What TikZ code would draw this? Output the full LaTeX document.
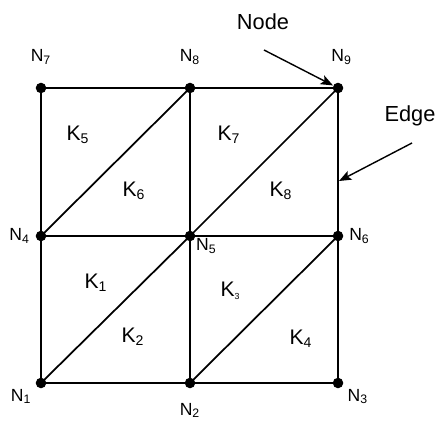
\documentclass[tikz,border=0pt]{standalone}
\usepackage{fontspec}
\setmainfont{Liberation Sans}
\usetikzlibrary{arrows.meta,positioning}

\tikzset{
  mesh/.style={line width=1pt,black},
  dot/.style={circle,fill=black,inner sep=0pt,minimum size=6pt},
  nlabel/.style={inner sep=1pt,font=\fontsize{10}{12}\selectfont},
  klabel/.style={inner sep=1pt,font=\fontsize{12}{14}\selectfont},
  callout/.style={inner sep=1pt,font=\fontsize{12.4}{14}\selectfont},
  pointer/.style={line width=0.8pt,-{Stealth[length=7pt,width=5.5pt,inset=1.5pt]}}
}

\begin{document}
\begin{tikzpicture}[x=0.02cm,y=-0.02cm]
  \useasboundingbox (0,0) rectangle (435,421);

  % grid points
  \node[dot] (n1) at (41,383) {};
  \node[dot] (n2) at (190,383) {};
  \node[dot] (n3) at (338,383) {};
  \node[dot] (n4) at (41,236) {};
  \node[dot] (n5) at (190,236) {};
  \node[dot] (n6) at (338,236) {};
  \node[dot] (n7) at (41,88) {};
  \node[dot] (n8) at (190,88) {};
  \node[dot] (n9) at (338,88) {};

  % edges of the mesh
  \draw[mesh] (n1.center) -- (n2.center) -- (n3.center) -- (n6.center) -- (n9.center)
              -- (n8.center) -- (n7.center) -- (n4.center) -- cycle;
  \draw[mesh] (n4.center) -- (n5.center) -- (n6.center);
  \draw[mesh] (n2.center) -- (n5.center) -- (n8.center);
  \draw[mesh] (n1.center) -- (n5.center) -- (n9.center);
  \draw[mesh] (n4.center) -- (n8.center);
  \draw[mesh] (n2.center) -- (n6.center);

  % point labels
  \node[nlabel, above=9pt of n7] (l7) {N\textsubscript{7}};
  \node[nlabel, above=9pt of n8] (l8) {N\textsubscript{8}};
  \node[nlabel, above=9pt of n9, xshift=2pt] (l9) {N\textsubscript{9}};
  \node[nlabel, left=2pt of n4] (l4) {N\textsubscript{4}};
  \node[nlabel, below right=-2pt and 0pt of n5] (l5) {N\textsubscript{5}};
  \node[nlabel, right=2pt of n6] (l6) {N\textsubscript{6}};
  \node[nlabel, below left=0pt and 2pt of n1] (l1) {N\textsubscript{1}};
  \node[nlabel, below=7pt of n2] (l2) {N\textsubscript{2}};
  \node[nlabel, below right=0pt and 2pt of n3] (l3) {N\textsubscript{3}};

  % element labels
  \node[klabel] (k1) at (96,283) {K\textsubscript{1}};
  \node[klabel] (k2) at (133,337) {K\textsubscript{2}};
  \node[klabel] (k3) at (230,291) {K{\fontsize{5}{6}\selectfont\raisebox{-2pt}{3}}};
  \node[klabel] (k4) at (301,339) {K\textsubscript{4}};
  \node[klabel] (k5) at (78,135) {K\textsubscript{5}};
  \node[klabel] (k6) at (134,191) {K\textsubscript{6}};
  \node[klabel] (k7) at (229,135) {K\textsubscript{7}};
  \node[klabel] (k8) at (281,191) {K\textsubscript{8}};

  % callouts
  \node[callout] (nodetext) at (263,22) {Node};
  \node[callout] (edgetext) at (410,116) {Edge};
  \coordinate (nodetail) at (264,50);
  \coordinate (edgetail) at (412,143);
  \coordinate (edgetip) at (339,181);
  \draw[pointer] (nodetail) -- (n9);
  \draw[pointer] (edgetail) -- (edgetip);
\end{tikzpicture}
\end{document}
